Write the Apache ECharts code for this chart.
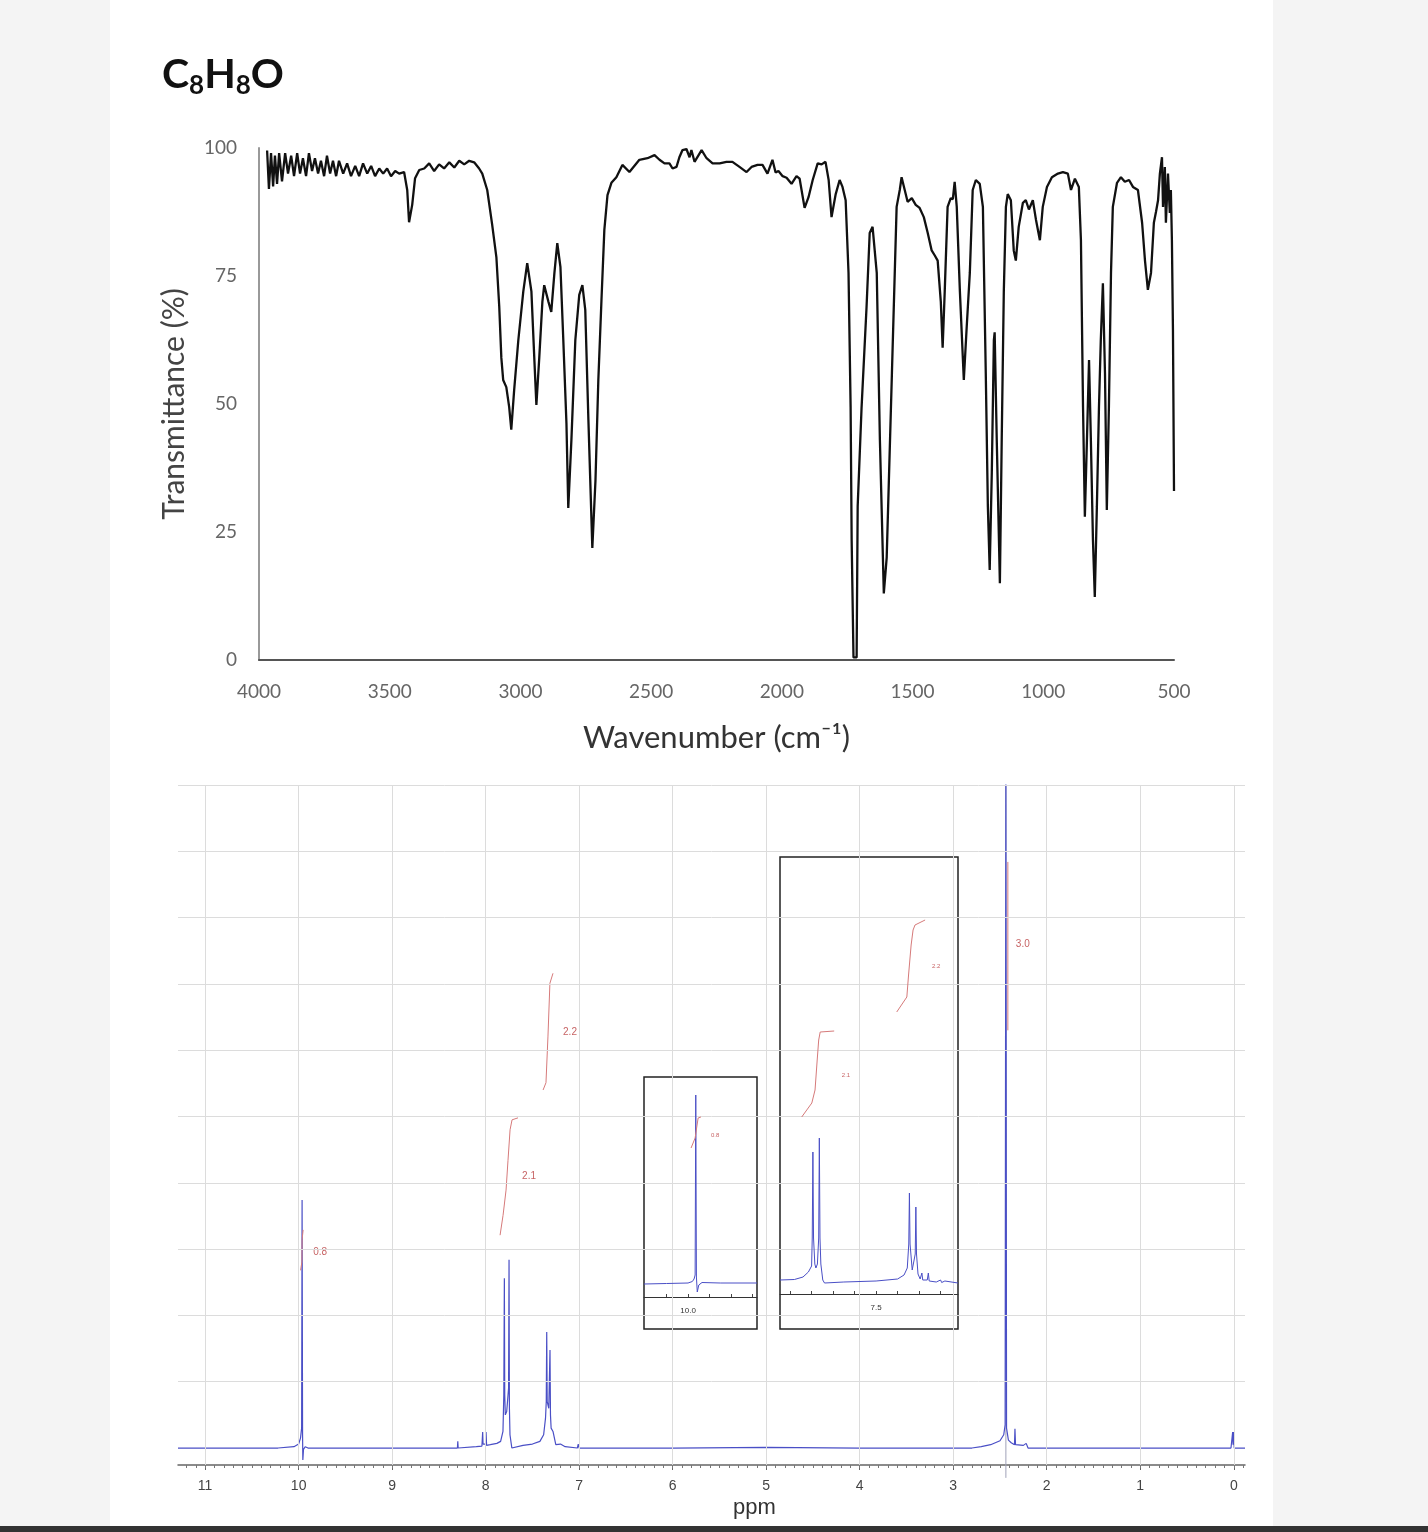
<!DOCTYPE html>
<html><head><meta charset="utf-8">
<script src="https://cdn.jsdelivr.net/npm/echarts@6/dist/echarts.min.js"></script>
<style>
html,body{margin:0;padding:0;background:#f4f4f4;}
#panel{position:absolute;left:110px;top:0;width:1163px;height:1526px;background:#fff;}
#bar{position:absolute;left:0;top:1526px;width:1428px;height:6px;background:#333;}
#chart{position:absolute;left:0;top:0;width:1428px;height:1532px;}
</style></head><body>
<div id="panel"></div><div id="bar"></div><div id="chart"></div>
<script>
// ---------- IR spectrum ----------
const irWavenumber = [3969,3962,3954,3946,3939,3931,3923,3912,3900,3889,3877,3866,3854,3843,3832,3820,3809,3797,3786,3774,3763,3751,3740,3728,3717,3705,3694,3678,3663,3648,3632,3617,3602,3586,3571,3556,3540,3525,3510,3495,3479,3464,3445,3433,3426,3414,3403,3387,3368,3349,3330,3311,3292,3272,3253,3234,3215,3196,3177,3158,3146,3127,3108,3092,3081,3073,3066,3054,3043,3035,3024,3008,2989,2974,2958,2947,2939,2928,2916,2909,2893,2882,2870,2859,2847,2836,2824,2817,2805,2790,2775,2763,2752,2740,2725,2713,2702,2690,2679,2667,2652,2633,2610,2583,2545,2514,2487,2468,2449,2430,2418,2403,2392,2380,2365,2353,2346,2334,2307,2288,2265,2238,2212,2189,2162,2135,2116,2093,2074,2055,2036,2024,2013,1997,1982,1963,1944,1932,1913,1898,1882,1863,1848,1833,1821,1810,1794,1779,1768,1756,1745,1737,1733,1726,1714,1710,1695,1676,1664,1653,1637,1625,1610,1599,1579,1561,1549,1542,1530,1519,1503,1488,1473,1457,1442,1427,1415,1404,1392,1385,1377,1366,1354,1346,1339,1331,1319,1304,1293,1281,1270,1258,1243,1231,1220,1212,1205,1197,1189,1186,1178,1166,1159,1151,1143,1136,1124,1113,1105,1094,1078,1067,1055,1040,1028,1013,1002,986,967,944,925,906,894,879,864,856,848,841,833,825,818,810,803,795,787,780,772,764,757,749,741,734,718,703,688,672,657,638,622,611,600,588,577,569,561,554,546,542,535,531,523,516,512,508,504,500];
const irTransmittance = [99.5,92,99,92.5,98.5,93,99,93.5,99,95,98.5,94.5,99,95,98,94.5,99,95.5,98,95,97.5,94.5,98.5,95,97.5,94.5,97.5,95,97,94.5,96.5,94.5,97,95,96.5,94.5,96,95,96,94.5,95.5,95,95.3,91.8,85.5,88.9,94.1,95.7,96,97,95.5,96.8,96,97.2,96.2,97.5,96.8,97.5,97.2,96,95,91.8,85,78.7,69,59,54.7,53.3,49.4,45,52.7,62.5,72,77.5,72,59,49.8,59,70,73.2,70,68,75.6,81.4,76.8,62.5,46.3,29.7,43,62.5,71.3,73.2,68.4,46.9,21.9,35,54.7,70.3,84,90.8,93.2,94.3,96.7,95.3,97.7,98,98.6,97.7,97,97,96,96.3,98.2,99.6,99.8,98.2,99.6,97.3,99.6,98,97,97,97.3,97.3,96.3,95.3,96.3,96.7,96.7,95,97.7,95.2,95.5,94.5,94.2,93,94.5,94,88.3,90.4,93.75,97,96.8,97.3,93.75,86.5,91,93.75,92.4,89.8,75.6,49.4,23.4,0.5,0.5,30,49.4,69,83.4,84.6,75.6,43,13,20,56,88.5,91.8,94.3,91.8,89.5,90.2,88.9,88.3,86.5,83.4,80,79,78,70,61,72,88.5,90.2,90,93.4,88.5,72,54.7,65,75.6,91.8,93.75,93,88.5,56,30,17.6,36.5,62.5,64,43,15,43,72,88.5,91,89.8,80,78,84.6,89.3,89.8,88,89.8,86,82,88.5,92.4,94.3,95,95.3,95,91.8,94,92.4,82,49.4,28,43,58.6,43,23.4,12.3,30,49.4,62.5,73.6,56,29.3,49.4,75.6,88.5,93.2,94.3,93.4,93.75,92.4,91.8,85.4,78,72.3,75.6,85.4,87.5,89.8,95,98.2,88.5,96.3,85.4,95,87.3,91.8,82,64.5,33];

// ---------- 1H NMR spectrum ----------
const nmrPpm = [11.29,10.6,10.25,10.24,10.22,10.05,10.0,9.98,9.968,9.963,9.958,9.955,9.948,9.93,9.9,9.7,8.5,8.302,8.298,8.294,8.1,8.04,8.032,8.028,8.0,7.996,7.99,7.95,7.88,7.84,7.815,7.806,7.800,7.796,7.79,7.775,7.755,7.750,7.746,7.74,7.72,7.7,7.6,7.5,7.42,7.38,7.36,7.352,7.347,7.342,7.325,7.317,7.312,7.307,7.3,7.28,7.265,7.25,7.2,7.15,7.02,7.01,7.0,6.0,5.0,4.0,2.8,2.7,2.6,2.5,2.46,2.445,2.437,2.43,2.41,2.38,2.345,2.34,2.334,2.25,2.22,2.2,0.03,0.012,0.008,0.004,-0.005,-0.12];
const nmrIntensity = [0,0,0,0.03,0,0.02,0.06,0.15,0.3,3.74,0.2,-0.18,-0.02,0.02,0,0,0,0,0.1,0,0.02,0.03,0.24,0.06,0.06,0.24,0.04,0.05,0.07,0.1,0.25,0.8,2.56,0.8,0.5,0.55,0.9,2.84,0.6,0.2,0,-0.02,0.04,0.06,0.1,0.2,0.45,0.7,1.75,0.7,0.6,0.6,1.48,0.5,0.3,0.25,0.25,0.05,0.06,0.02,0,0.06,0,0,0.01,0,0,0.02,0.05,0.11,0.2,0.35,10.5,0.3,0.12,0.08,0.05,0.29,0.05,0.04,0.07,0,0,0.24,0.05,0.24,0,0];
const nmrTickLabels = [0,1,2,3,4,5,6,7,8,9,10,11];
const nmrGridLevels = [1,2,3,4,5,6,7,8,9,10];
const nmrCursorPpm = [2.437, 2.437];
const nmrCursorLevel = [-0.45, 10];

// integrals (main)
const integral1 = [[9.979,2.68],[9.965,2.81],[9.963,3.14],[9.952,3.29]];
const integral2 = [[7.846,3.21],[7.814,3.51],[7.782,3.89],[7.761,4.34],[7.739,4.80],[7.718,4.95],[7.654,4.98]];
const integral3 = [[7.386,5.40],[7.355,5.51],[7.334,6.20],[7.313,7.01],[7.28,7.16]];
const integral4 = [[2.416,6.30],[2.416,8.84]];
const integralText = ['0.8','2.1','2.2','3.0'];
const integralTextAt = [[9.77,2.96],[7.536,4.10],[7.098,6.27],[2.256,7.60]];

// inset A (aldehyde region)
const insetAPpm = [10.205,10.1,10.0,9.98,9.972,9.967,9.964,9.961,9.957,9.95,9.935,9.85,9.679];
const insetAIntensity = [1.3,1.35,1.4,1.55,1.8,2.2,20.2,2.0,0.5,1.2,1.45,1.4,1.4];
const insetAIntegral = [[9.986,14.9],[9.967,15.9],[9.958,17.2],[9.953,17.9],[9.940,18.0]];
const insetATicks = [10.1,10.0,9.9,9.8,9.7];
const insetALabel = [10.0];
const insetAText = ['0.8'];
const insetATextAt = [[9.874,16.2]];

// inset B (aromatic region)
const insetBPpm = [7.947,7.88,7.84,7.815,7.80,7.797,7.794,7.791,7.785,7.78,7.773,7.767,7.764,7.761,7.757,7.752,7.748,7.74,7.65,7.5,7.40,7.37,7.355,7.348,7.345,7.342,7.332,7.325,7.318,7.315,7.312,7.305,7.295,7.287,7.283,7.262,7.257,7.253,7.22,7.20,7.195,7.18,7.175,7.119];
const insetBIntensity = [1.4,1.45,1.7,2.2,2.8,5.6,14.2,5.6,3.0,2.6,3.0,5.6,15.6,5.6,3.0,2.8,1.4,1.1,1.2,1.3,1.5,1.9,2.6,5,10.1,5,2.4,2.3,4,8.7,4,2.0,1.5,2.1,1.4,1.4,2.1,1.3,1.2,1.4,1.15,1.3,1.1,1.1];
const insetBIntegral1 = [[7.846,17.7],[7.799,19.1],[7.784,20.4],[7.774,23.4],[7.767,25.4],[7.760,26.2],[7.695,26.3]];
const insetBIntegral2 = [[7.404,28.2],[7.357,29.7],[7.349,31.9],[7.337,34.9],[7.328,36.4],[7.319,36.9],[7.272,37.4]];
const insetBTicks = [7.9,7.8,7.7,7.6,7.5,7.4,7.3,7.2];
const insetBLabel = [7.5];
const insetBText = ['2.1','2.2'];
const insetBTextAt = [[7.640,21.9],[7.221,32.8]];

const zip = (a, b) => a.map((v, i) => [v, b[i]]);
const minorTicks = [];
for (let k = -1; k <= 112; k++) minorTicks.push(+(k / 10).toFixed(1));

const BLUE = '#4a4fc6';
const RED_LINE = '#d67a7a';
const RED_TEXT = '#b8393b';

function textSeries(names, pos, xi, yi, size, z) {
  return {
    type: 'scatter', xAxisIndex: xi, yAxisIndex: yi, symbolSize: 0, z: z, silent: true,
    data: names.map((n, i) => ({ name: n, value: pos[i] })),
    label: { show: true, position: 'inside', formatter: '{b}', color: RED_TEXT, fontSize: size, fontFamily: 'Liberation Sans' }
  };
}
function redLine(data, xi, yi, z) {
  return { type: 'line', xAxisIndex: xi, yAxisIndex: yi, data: data, showSymbol: false, z: z, silent: true,
    lineStyle: { color: RED_LINE, width: 1 } };
}
function insetAxis(grid, min, max, ticks, labels) {
  return { gridIndex: grid, type: 'value', min: min, max: max, inverse: true, z: 4,
    axisLine: { onZero: false, lineStyle: { color: '#333', width: 1 } },
    axisTick: { show: true, inside: true, length: 3, customValues: ticks, lineStyle: { color: '#444' } },
    axisLabel: { customValues: labels, formatter: v => v.toFixed(1), color: '#333', fontSize: 8, fontFamily: 'Liberation Sans', margin: 10 },
    splitLine: { show: false } };
}
const hiddenAxis = g => ({ gridIndex: g, type: 'value', show: false, min: 0, max: 1 });

const chart = echarts.init(document.getElementById('chart'), null, { renderer: 'canvas' });
chart.setOption({
  animation: false,
  backgroundColor: 'transparent',
  title: {
    text: '{a|C}{b|8}{a|H}{b|8}{a|O}', left: 157, top: 46,
    textStyle: { rich: {
      a: { fontSize: 41, fontWeight: 'bold', fontFamily: 'Lato', color: '#111', lineHeight: 48 },
      b: { fontSize: 26, fontWeight: 'bold', fontFamily: 'Lato', color: '#111', lineHeight: 16, verticalAlign: 'bottom' }
    } }
  },
  graphic: [{ type: 'text', left: 733, top: 1497, style: { text: 'ppm', fontSize: 22, fontFamily: 'Liberation Sans', fill: '#333' } }],
  grid: [
    { left: 259, top: 148, width: 915, height: 512 },
    { left: 178, top: 785, width: 1067, height: 680 },
    { left: 644, top: 1077, width: 113, height: 252, show: true, backgroundColor: '#fff', borderColor: '#222', borderWidth: 1.5, z: 3 },
    { left: 780, top: 857, width: 178, height: 472, show: true, backgroundColor: '#fff', borderColor: '#222', borderWidth: 1.5, z: 3 },
    { left: 644, top: 1077, width: 113, height: 220 },
    { left: 780, top: 857, width: 178, height: 437 }
  ],
  xAxis: [
    { gridIndex: 0, type: 'value', min: 500, max: 4000, interval: 500, inverse: true,
      axisLine: { lineStyle: { color: '#555', width: 2 } }, axisTick: { show: false }, splitLine: { show: false },
      axisLabel: { color: '#666', fontSize: 19, fontFamily: 'Lato', margin: 22, formatter: v => String(v) },
      name: 'Wavenumber (cm⁻¹)', nameLocation: 'middle', nameGap: 62,
      nameTextStyle: { color: '#333', fontSize: 31, fontFamily: 'Lato' } },
    { gridIndex: 1, type: 'value', min: -0.12, max: 11.29, inverse: true,
      axisLine: { onZero: false, lineStyle: { color: '#666', width: 1.5 } },
      axisTick: { show: true, customValues: nmrTickLabels, length: 5, lineStyle: { color: '#666' } },
      axisLabel: { customValues: nmrTickLabels, color: '#444', fontSize: 14, fontFamily: 'Liberation Sans', margin: 14 },
      splitLine: { show: false } },
    { gridIndex: 1, type: 'value', min: -0.12, max: 11.29, inverse: true, position: 'bottom',
      axisLine: { show: false, onZero: false }, axisLabel: { show: false }, splitLine: { show: false },
      axisTick: { show: true, customValues: minorTicks, length: 3, lineStyle: { color: '#777' } } },
    insetAxis(4, 9.679, 10.205, insetATicks, insetALabel),
    insetAxis(5, 7.119, 7.947, insetBTicks, insetBLabel),
    hiddenAxis(2), hiddenAxis(3)
  ],
  yAxis: [
    { gridIndex: 0, type: 'value', min: 0, max: 100, interval: 25,
      axisLine: { show: true, lineStyle: { color: '#999', width: 2 } }, axisTick: { show: false }, splitLine: { show: false },
      axisLabel: { color: '#666', fontSize: 19, fontFamily: 'Lato', margin: 22 },
      name: 'Transmittance (%)', nameLocation: 'middle', nameGap: 70, nameRotate: 90,
      nameTextStyle: { color: '#444', fontSize: 30, fontFamily: 'Lato' } },
    { gridIndex: 1, type: 'value', min: -0.256, max: 10, show: false },
    { gridIndex: 4, type: 'value', min: 0, max: 22, show: false },
    { gridIndex: 5, type: 'value', min: 0, max: 43.7, show: false },
    hiddenAxis(2), hiddenAxis(3)
  ],
  series: [
    { type: 'line', xAxisIndex: 0, yAxisIndex: 0, data: zip(irWavenumber, irTransmittance), showSymbol: false,
      lineStyle: { color: '#111', width: 2.3 }, silent: true },
    { type: 'line', xAxisIndex: 1, yAxisIndex: 1, data: [[11.29, 0]], showSymbol: false, z: 1, silent: true,
      lineStyle: { opacity: 0 },
      markLine: { silent: true, symbol: ['none', 'none'], label: { show: false }, animation: false,
        lineStyle: { color: '#dcdcdc', width: 1, type: 'solid' },
        data: nmrGridLevels.map(v => ({ yAxis: v })).concat(nmrTickLabels.map(v => ({ xAxis: v }))) } },
    { type: 'line', xAxisIndex: 1, yAxisIndex: 1, data: zip(nmrCursorPpm, nmrCursorLevel), showSymbol: false, clip: false, z: 2,
      lineStyle: { color: '#a0a3b8', width: 1 }, silent: true },
    { type: 'line', xAxisIndex: 1, yAxisIndex: 1, data: zip(nmrPpm, nmrIntensity), showSymbol: false, z: 3,
      lineStyle: { color: BLUE, width: 1.2 }, silent: true },
    redLine(integral1, 1, 1, 3), redLine(integral2, 1, 1, 3), redLine(integral3, 1, 1, 3), redLine(integral4, 1, 1, 3),
    textSeries(integralText, integralTextAt, 1, 1, 10, 3),
    { type: 'line', xAxisIndex: 3, yAxisIndex: 2, data: zip(insetAPpm, insetAIntensity), showSymbol: false, z: 5,
      lineStyle: { color: BLUE, width: 1 }, silent: true },
    redLine(insetAIntegral, 3, 2, 5),
    textSeries(insetAText, insetATextAt, 3, 2, 6, 5),
    { type: 'line', xAxisIndex: 4, yAxisIndex: 3, data: zip(insetBPpm, insetBIntensity), showSymbol: false, z: 5,
      lineStyle: { color: BLUE, width: 1 }, silent: true },
    redLine(insetBIntegral1, 4, 3, 5), redLine(insetBIntegral2, 4, 3, 5),
    textSeries(insetBText, insetBTextAt, 4, 3, 6, 5)
  ]
});
</script></body></html>
